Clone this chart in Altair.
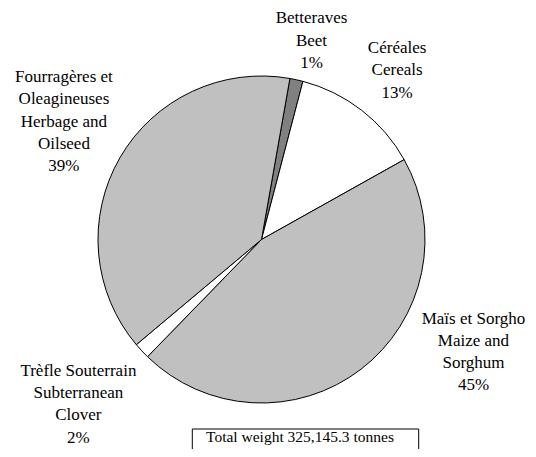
import math
import altair as alt
import pandas as pd

# ---- data ----
keys = ["Beet", "Cereals", "Maize", "Clover", "Herbage"]
labels = [
    "Betteraves\nBeet",
    "Céréales\nCereals",
    "Maïs et Sorgho\nMaize and\nSorghum",
    "Trèfle Souterrain\nSubterranean\nClover",
    "Fourragères et\nOleagineuses\nHerbage and\nOilseed",
]
shares = [1.3, 12.8, 45.4, 1.6, 38.9]  # percent of total weight
colors = ["#808080", "#FFFFFF", "#C0C0C0", "#FFFFFF", "#C0C0C0"]
total_label = "Total weight 325,145.3 tonnes"

# ---- layout / style ----
FONT = "Liberation Serif"
FS = 17
LH = 22.3
START = math.radians(10.0)
label_offsets = {  # dx, dy nudges from the label ring (to block centre)
    "Beet": (3, 16),
    "Cereals": (1, 5),
    "Maize": (78, -62),
    "Clover": (-22, 15),
    "Herbage": (-7, -8),
}

df = pd.DataFrame({"key": keys, "label": labels, "share": shares, "idx": list(range(len(keys)))})

theta_scale = alt.Scale(domain=[0, sum(shares)], range=[START, START + 2 * math.pi])

base = alt.Chart(df)

pie = base.mark_arc(outerRadius=163.5, stroke="black", strokeWidth=1).encode(
    theta=alt.Theta("share:Q", scale=theta_scale, stack=True),
    color=alt.Color("key:N", scale=alt.Scale(domain=keys, range=colors), legend=None),
    order=alt.Order("idx:Q"),
)

lab = base.transform_window(
    cum="sum(share)", sort=[alt.SortField("idx")], frame=[None, 0]
).transform_calculate(
    mid="datum.cum - datum.share / 2",
    txt="datum.label + '\\n' + round(datum.share) + '%'",
)

text_layers = []
for k, lbl in zip(keys, labels):
    dx, dy = label_offsets[k]
    n_lines = lbl.count("\n") + 2
    dy = dy - (n_lines - 1) / 2 * LH
    text_layers.append(
        lab.transform_filter(alt.datum.key == k)
        .mark_text(
            radius=220, dx=dx, dy=dy, font=FONT, fontSize=FS, lineHeight=LH,
            lineBreak="\n", align="center", baseline="middle", color="black",
        )
        .encode(theta=alt.Theta("mid:Q", scale=theta_scale, stack=False), text="txt:N")
    )

box_df = pd.DataFrame({"t": [total_label]})
box = alt.Chart(box_df).mark_rect(fillOpacity=0, stroke="black", strokeWidth=1).encode(
    x=alt.value(184.3), x2=alt.value(410.7), y=alt.value(397), y2=alt.value(440)
)
box_text = alt.Chart(box_df).mark_text(
    font=FONT, fontSize=15.5, align="center", baseline="middle", color="black"
).encode(x=alt.value(292), y=alt.value(405), text="t:N")

chart = alt.layer(pie, *text_layers, box, box_text).properties(
    width=507,
    height=415,
    padding={"left": 0, "top": 24, "right": 13, "bottom": 2},
    autosize="none",
).configure_view(strokeWidth=0)

chart.save("out.html", embed_options={"renderer": "svg", "actions": False})
